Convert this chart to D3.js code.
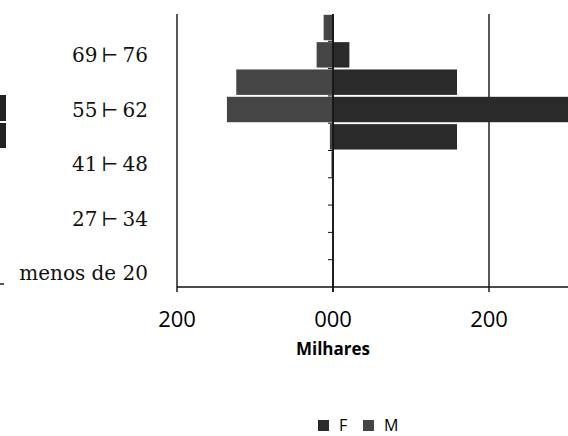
<!DOCTYPE html>
<html>
<head>
<meta charset="utf-8">
<script src="https://cdn.jsdelivr.net/npm/d3@7"></script>
<style>
  body { margin: 0; background: #fff; }
  svg { display: block; }
</style>
</head>
<body>
<svg id="pyramid" width="568" height="436"></svg>
<script>
// age groups, bottom to top
var ageGroups = ["menos de 20", "20\u2009⊢\u200927", "27\u2009⊢\u200934", "34\u2009⊢\u200941", "41\u2009⊢\u200948",
                 "48\u2009⊢\u200955", "55\u2009⊢\u200962", "62\u2009⊢\u200969", "69\u2009⊢\u200976", "76 e mais"];
// thousands, M drawn to the left, F to the right
var masc = [0, 0, 0, 1, 2, 4, 136, 124, 21, 12];
var fem  = [0, 0, 0, 0, 1, 159, 330, 159, 21, 1];
var xTicks = [-200, 0, 200];
var seriesNames = ["F", "M"];

var svg = d3.select("#pyramid"),
    width = +svg.attr("width"),
    height = +svg.attr("height");

var colF = "#2a2a2a", colM = "#454545";

var x = d3.scaleLinear().domain([-200, 200]).range([177, 489]);
var y = d3.scaleBand().domain(ageGroups).range([287, 14]).paddingInner(0.07).paddingOuter(0.03);
var band = d3.scaleBand().domain(ageGroups).range([287, 14]);

// gridlines / frame
svg.append("g")
    .selectAll("line")
    .data(xTicks)
    .enter()
    .append("line")
    .attr("x1", d => x(d)).attr("x2", d => x(d))
    .attr("y1", 14).attr("y2", 292)
    .style("stroke", "#111")
    .style("stroke-width", 1.4);

// bars
var rows = ageGroups.map((g, i) => ({g: g, m: masc[i], f: fem[i]}));
var bars = svg.append("g");
bars.selectAll(".m")
    .data(rows)
    .enter()
    .append("rect")
    .attr("x", d => x(-d.m))
    .attr("width", d => x(0) - x(-d.m))
    .attr("y", d => y(d.g))
    .attr("height", y.bandwidth())
    .attr("fill", colM);
bars.selectAll(".f")
    .data(rows)
    .enter()
    .append("rect")
    .attr("x", x(0))
    .attr("width", d => x(d.f) - x(0))
    .attr("y", d => y(d.g))
    .attr("height", y.bandwidth())
    .attr("fill", colF);

// category axis at zero, ticks pointing left
var catAxis = svg.append("g");
catAxis.append("line")
    .attr("x1", x(0)).attr("x2", x(0))
    .attr("y1", 14).attr("y2", 292)
    .style("stroke", "#111").style("stroke-width", 1.6);
catAxis.selectAll("line.tk")
    .data(ageGroups.slice(1))
    .enter()
    .append("line")
    .attr("x1", x(0) - 5).attr("x2", x(0))
    .attr("y1", d => band(d) + band.bandwidth())
    .attr("y2", d => band(d) + band.bandwidth())
    .style("stroke", "#111").style("stroke-width", 1);

// bottom axis
svg.append("line")
    .attr("x1", x(-200)).attr("x2", width)
    .attr("y1", 287).attr("y2", 287)
    .style("stroke", "#111").style("stroke-width", 1.6);

svg.append("g")
    .selectAll("text")
    .data(xTicks)
    .enter()
    .append("text")
    .attr("x", d => x(d))
    .attr("y", 327)
    .attr("text-anchor", "middle")
    .style("font-family", "'Open Sans', sans-serif")
    .style("font-size", "22px")
    .text(d => d3.format("03d")(Math.abs(d)));

svg.append("text")
    .attr("x", x(0))
    .attr("y", 355)
    .attr("text-anchor", "middle")
    .style("font-family", "'Open Sans', sans-serif")
    .style("font-weight", "bold")
    .style("font-size", "17px")
    .text("Milhares");

// age labels, every other group
svg.append("g")
    .selectAll("text")
    .data(ageGroups.filter((d, i) => i % 2 === 0))
    .enter()
    .append("text")
    .attr("x", 148)
    .attr("y", d => band(d) + band.bandwidth() / 2 + 7)
    .attr("text-anchor", "end")
    .style("font-family", "'DejaVu Serif', serif")
    .style("font-size", "20px")
    .style("fill", "#111")
    .text(d => d);

// scraps of the cropped page at the left edge
svg.append("rect").attr("x", 0).attr("y", 95).attr("width", 6).attr("height", 26).attr("fill", "#222");
svg.append("rect").attr("x", 0).attr("y", 123).attr("width", 6).attr("height", 25).attr("fill", "#222");
svg.append("line").attr("x1", 0).attr("x2", 4).attr("y1", 284).attr("y2", 284)
    .style("stroke", "#222").style("stroke-width", 1.5);

// legend
var legend = svg.append("g").attr("transform", "translate(318,420)");
var legX = [0, 45];
var leg = legend.selectAll("g")
    .data(seriesNames)
    .enter()
    .append("g")
    .attr("transform", (d, i) => "translate(" + legX[i] + ",0)");
leg.append("rect")
    .attr("width", 11).attr("height", 11)
    .attr("fill", d => d === "F" ? colF : colM);
leg.append("text")
    .attr("x", 21)
    .attr("y", 11)
    .style("font-family", "'Open Sans', sans-serif")
    .style("font-size", "16px")
    .text(d => d);
</script>
</body>
</html>
